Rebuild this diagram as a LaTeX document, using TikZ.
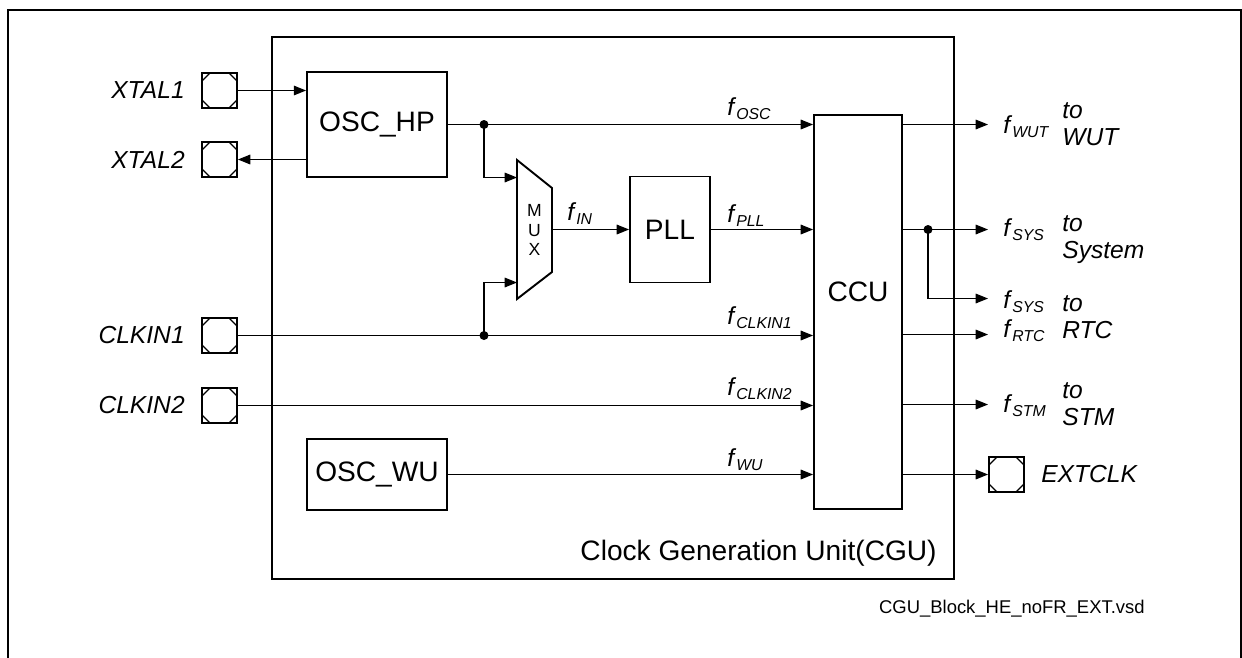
\documentclass[tikz,border=0pt]{standalone}
\usepackage{fontspec}
\setmainfont{Liberation Sans}
\usetikzlibrary{arrows.meta, positioning, calc}
\newcommand{\fsig}[1]{\textit{f}\raisebox{-0.2em}{\fontsize{9}{10}\selectfont\itshape #1}}

\begin{document}
\begin{tikzpicture}[
            x=0.02cm, y=-0.02cm,
            box/.style={rectangle, draw, line width=1.1pt, inner sep=0pt, font=\fontsize{16}{19}\selectfont},
            pin/.style={rectangle, draw, line width=1.1pt, minimum size=0.7cm, inner sep=0pt,
              path picture={
                \draw[line width=0.7pt] ([yshift=-0.16cm]path picture bounding box.north west) -- ([xshift=0.16cm]path picture bounding box.north west);
                \draw[line width=0.7pt] ([yshift=-0.16cm]path picture bounding box.north east) -- ([xshift=-0.16cm]path picture bounding box.north east);
                \draw[line width=0.7pt] ([yshift=0.16cm]path picture bounding box.south west) -- ([xshift=0.16cm]path picture bounding box.south west);
                \draw[line width=0.7pt] ([yshift=0.16cm]path picture bounding box.south east) -- ([xshift=-0.16cm]path picture bounding box.south east);
              }},
            itext/.style={font=\fontsize{14}{15.3}\selectfont\itshape, inner sep=0pt},
            flabel/.style={font=\fontsize{14}{16}\selectfont, inner sep=0pt, anchor=base west},
            dot/.style={circle, fill, inner sep=0pt, minimum size=0.18cm},
            sig/.style={line width=0.6pt, -{Triangle[length=7pt, width=5.5pt]}}
          ]
  \useasboundingbox (0,0) rectangle (1242,657);
  \clip (0,0) rectangle (1242,657);
  \draw[line width=1.4pt] (8,10) rectangle (1241,700);

  % Blocks
  \node (cgu) [box, minimum width=13.64cm, minimum height=10.84cm] at (613,308) {};
  \node (oschp) [box, minimum width=2.8cm, minimum height=2.1cm] at (377,124.5) {OSC\_HP};
  \node (oscwu) [box, minimum width=2.8cm, minimum height=1.42cm] at (377,474.5) {OSC\_WU};
  \node (pll) [box, minimum width=1.6cm, minimum height=2.12cm] at (670,229.5) {PLL};
  \node (ccu) [box, minimum width=1.76cm, minimum height=7.88cm] at (858,312) {};
  \node (ccutext) [font=\fontsize{16}{19}\selectfont] at (858,292) {CCU};
  \draw[line width=1.1pt] (517,160) -- (552,188) -- (552,272) -- (517,299) -- cycle;
  \node (mux) [font=\fontsize{10}{11.3}\selectfont, align=center, inner sep=0pt] at (534.5,230) {M\\U\\X};
  \coordinate (muxa) at (517,177.5);
  \coordinate (muxb) at (517,282.5);
  \coordinate (muxo) at (552,229.5);

  % Pins
  \node (xtal1) [pin] at (219.5,90.5) {};
  \node (xtal2) [pin] at (219.5,159.5) {};
  \node (clkin1) [pin] at (219.5,335.5) {};
  \node (clkin2) [pin] at (219.5,405.5) {};
  \node (extclk) [pin] at (1006.5,474.5) {};
  \node (xtal1lbl) [itext, left=0.32cm of xtal1] {XTAL1};
  \node (xtal2lbl) [itext, left=0.32cm of xtal2] {XTAL2};
  \node (clkin1lbl) [itext, left=0.32cm of clkin1] {CLKIN1};
  \node (clkin2lbl) [itext, left=0.32cm of clkin2] {CLKIN2};
  \node (extclklbl) [itext, right=0.32cm of extclk] {EXTCLK};

  % Connections
  \draw[sig] (xtal1) -- (xtal1 -| oschp.west);
  \draw[sig] (xtal2 -| oschp.west) -- (xtal2);
  \node (j1) [dot] at (484,124.5) {};
  \draw[sig] (oschp.east) -- (oschp.east -| ccu.west);
  \draw[sig] (j1.center) |- (muxa);
  \draw[sig] (muxo) -- (pll.west);
  \draw[sig] (pll.east) -- (pll.east -| ccu.west);
  \node (j2) [dot] at (j1 |- clkin1) {};
  \draw[sig] (clkin1) -- (clkin1 -| ccu.west);
  \draw[sig] (j2.center) |- (muxb);
  \draw[sig] (clkin2) -- (clkin2 -| ccu.west);
  \draw[sig] (oscwu) -- (oscwu -| ccu.west);

  \node (fosc) [flabel] at (727,115) {\fsig{OSC}};
  \node (fin) [flabel] at (567,220) {\fsig{IN}};
  \node (fpll) [flabel] at (727,222) {\fsig{PLL}};
  \node (fclkin1) [flabel] at (727,324) {\fsig{CLKIN1}};
  \node (fclkin2) [flabel] at (727,395) {\fsig{CLKIN2}};
  \node (fwu) [flabel] at (727,466) {\fsig{WU}};

  % Outputs
  \coordinate (owut) at (988,124.5);
  \coordinate (osys) at (988,229.5);
  \coordinate (osys2) at (988,298.5);
  \coordinate (ortc) at (988,334.5);
  \coordinate (ostm) at (988,404.5);
  \draw[sig] (ccu.east |- owut) -- (owut);
  \draw[sig] (ccu.east |- osys) -- (osys);
  \node (j3) [dot] at (928,229.5) {};
  \draw[sig] (j3.center) |- (osys2);
  \draw[sig] (ccu.east |- ortc) -- (ortc);
  \draw[sig] (ccu.east |- ostm) -- (ostm);
  \draw[sig] (ccu.east |- extclk) -- (extclk);

  \node (fwut) [flabel] at (1003,133) {\fsig{WUT}};
  \node (fsys) [flabel] at (1003,236) {\fsig{SYS}};
  \node (fsys2) [flabel] at (1003,308) {\fsig{SYS}};
  \node (frtc) [flabel] at (1003,337) {\fsig{RTC}};
  \node (fstm) [flabel] at (1003,412) {\fsig{STM}};
  \node (towut) [itext, align=left, anchor=base west] at (1062,145) {to\\WUT};
  \node (tosys) [itext, align=left, anchor=base west] at (1062,258) {to\\System};
  \node (tortc) [itext, align=left, anchor=base west] at (1062,338) {to\\RTC};
  \node (tostm) [itext, align=left, anchor=base west] at (1062,425) {to\\STM};

  \node (cgulbl) [font=\fontsize{16}{19}\selectfont, inner sep=0pt, anchor=base east] at (937,560) {Clock Generation Unit(CGU)};
  \node (filelbl) [font=\fontsize{10.5}{12}\selectfont, inner sep=0pt, anchor=base east] at (1145,613) {CGU\_Block\_HE\_noFR\_EXT.vsd};

\end{tikzpicture}
\end{document}
